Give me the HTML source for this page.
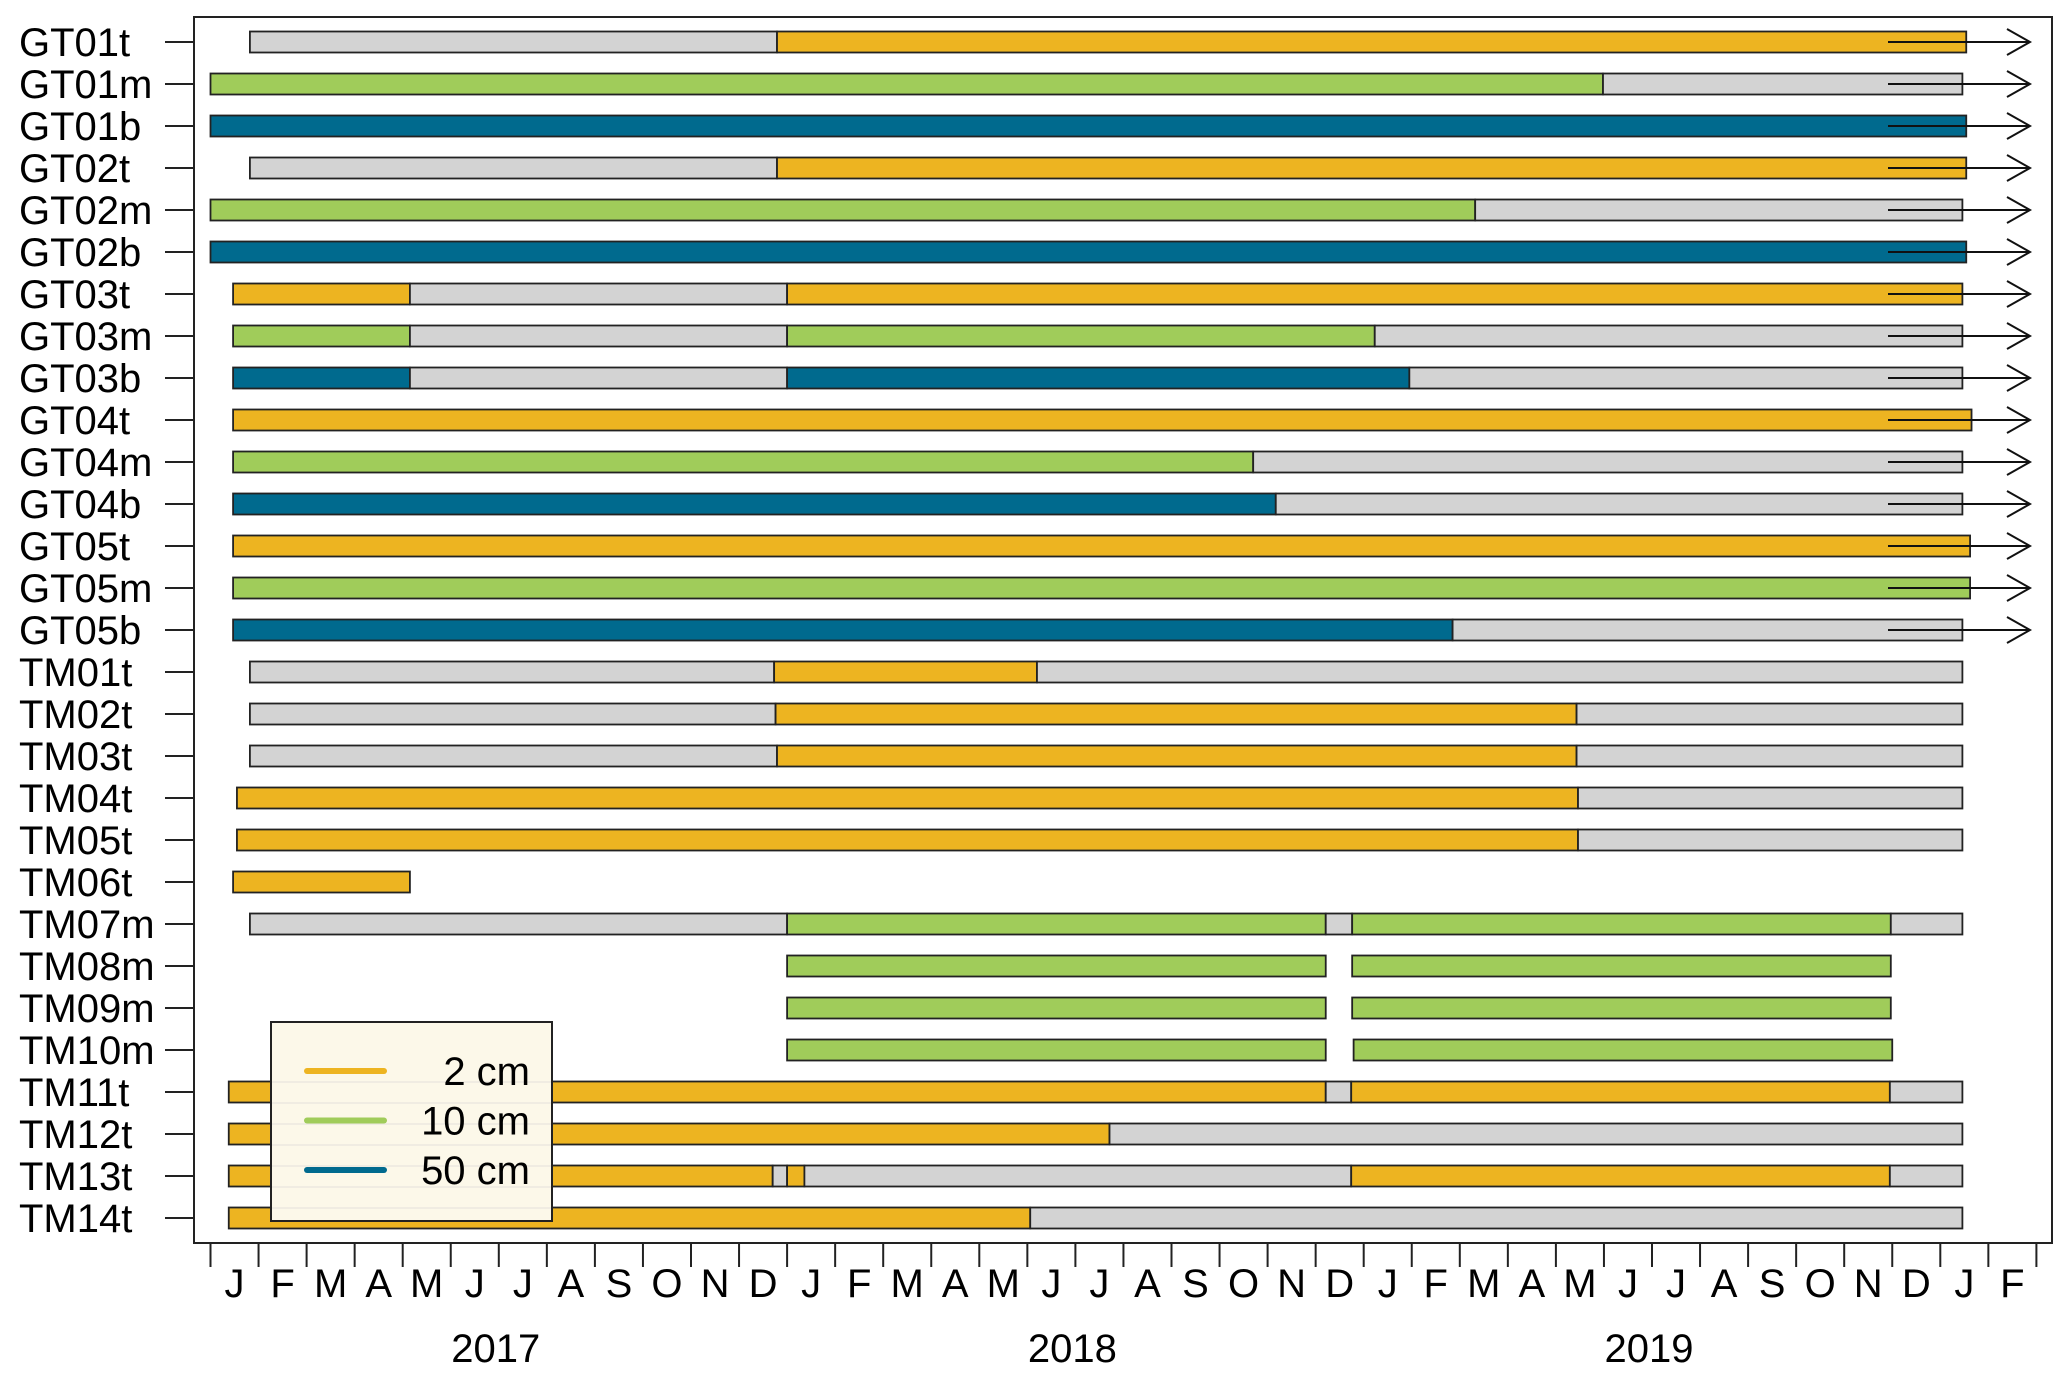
<!DOCTYPE html>
<html><head><meta charset="utf-8"><style>
html,body{margin:0;padding:0;background:#fff;}
svg{display:block;font-family:"Liberation Sans",Arial,sans-serif;}
</style></head><body>
<svg id="chart" width="2067" height="1381" viewBox="0 0 2067 1381"></svg>
<script>
// Data: rows, segments (start/end in months since Jan 2017), types (g=gray none, t=2cm, m=10cm, b=50cm)
const rowLabels = ["GT01t","GT01m","GT01b","GT02t","GT02m","GT02b","GT03t","GT03m","GT03b","GT04t","GT04m","GT04b","GT05t","GT05m","GT05b","TM01t","TM02t","TM03t","TM04t","TM05t","TM06t","TM07m","TM08m","TM09m","TM10m","TM11t","TM12t","TM13t","TM14t"];
const segStarts = [
 [0.82,11.79],[0,28.98],[0],[0.82,11.79],[0,26.32],[0],
 [0.47,4.15,12.0],[0.47,4.15,12.0,24.23],[0.47,4.15,12.0,24.95],
 [0.47],[0.47,21.7],[0.47,22.17],[0.47],[0.47],[0.47,25.85],
 [0.82,11.73,17.2],[0.82,11.76,28.43],[0.82,11.79,28.43],[0.55,28.46],[0.55,28.46],[0.47],
 [0.82,12.0,23.21,23.76,34.97],[12.0,23.76],[12.0,23.76],[12.0,23.79],
 [0.38,23.21,23.74,34.95],[0.38,18.71],[0.38,11.7,12.0,12.36,23.74,34.95],[0.38,17.06]
];
const segEnds = [
 [11.79,36.54],[28.98,36.46],[36.54],[11.79,36.54],[26.32,36.46],[36.54],
 [4.15,12.0,36.46],[4.15,12.0,24.23,36.46],[4.15,12.0,24.95,36.46],
 [36.65],[21.7,36.46],[22.17,36.46],[36.62],[36.62],[25.85,36.46],
 [11.73,17.2,36.46],[11.76,28.43,36.46],[11.79,28.43,36.46],[28.46,36.46],[28.46,36.46],[4.15],
 [12.0,23.21,23.76,34.97,36.46],[23.21,34.97],[23.21,34.97],[23.21,35.0],
 [23.21,23.74,34.95,36.46],[18.71,36.46],[11.7,12.0,12.36,23.74,34.95,36.46],[17.06,36.46]
];
const segTypes = [
 "gt","mg","b","gt","mg","b",
 "tgt","mgmg","bgbg",
 "t","mg","bg","t","m","bg",
 "gtg","gtg","gtg","tg","tg","t",
 "gmgmg","mm","mm","mm",
 "tgtg","tg","tgtgtg","tg"
];
const arrowRows = ["GT01t","GT01m","GT01b","GT02t","GT02m","GT02b","GT03t","GT03m","GT03b","GT04t","GT04m","GT04b","GT05t","GT05m","GT05b"];
const monthLabels = ["J","F","M","A","M","J","J","A","S","O","N","D","J","F","M","A","M","J","J","A","S","O","N","D","J","F","M","A","M","J","J","A","S","O","N","D","J","F"];
const yearLabels = ["2017","2018","2019"];
const legendLabels = ["2 cm","10 cm","50 cm"];

const colors = {g:"#d3d3d3", t:"#edb421", m:"#a0cc5a", b:"#006a8e"};
const NS = "http://www.w3.org/2000/svg";
const svg = document.getElementById("chart");
const X0 = 210.5, MW = 48.05;
function x(m){ return X0 + m*MW; }
function y(i){ return 42 + i*42.0; }
function mk(tag, attrs, parent){
  const e = document.createElementNS(NS, tag);
  for (const k in attrs) e.setAttribute(k, attrs[k]);
  (parent||svg).appendChild(e);
  return e;
}
const box = mk("rect",{x:194,y:17,width:1858,height:1226,fill:"none",stroke:"#222","stroke-width":2});



rowLabels.forEach((lab,i)=>{
  const cy = y(i);
  const t = mk("text",{x:19,y:cy+14,"font-size":40,fill:"#000"});
  t.textContent = lab;
  
  
  const tk = mk("line",{x1:165,x2:194,y1:cy,y2:cy,stroke:"#222","stroke-width":2});
  
  
  const g = mk("g",{});
  
  
  segStarts[i].forEach((s,j)=>{
    const e = segEnds[i][j];
    const r = mk("rect",{x:x(s),y:cy-10.5,width:x(e)-x(s),height:21,fill:colors[segTypes[i][j]],stroke:"#222","stroke-width":1.8},g);
    
    
  });
  if (arrowRows.includes(lab)){
    const a = mk("path",{d:`M1888 ${cy} L2030 ${cy} M2007 ${cy-13} L2030 ${cy} L2007 ${cy+13}`,fill:"none",stroke:"#111","stroke-width":2});
    
    
  }
});

for (let k=0;k<=monthLabels.length;k++){
  const tk = mk("line",{x1:x(k),x2:x(k),y1:1243,y2:1267,stroke:"#222","stroke-width":2});
  
  
}
monthLabels.forEach((m,k)=>{
  const t = mk("text",{x:x(k+0.5),y:1297,"font-size":40,"text-anchor":"middle",fill:"#000"});
  t.textContent = m;
  
  
});
yearLabels.forEach((yr,k)=>{
  const t = mk("text",{x:x(k*12+6)-3,y:1362,"font-size":40,"text-anchor":"middle",fill:"#000"});
  t.textContent = yr;
  
  
});

const lg = mk("g",{});


mk("rect",{x:271,y:1022,width:281,height:199,fill:"#fcf8e9",stroke:"#222","stroke-width":2},lg);
[1082,1103,1124,1145,1166,1187,1208].forEach(yy=>mk("line",{x1:272,x2:551,y1:yy,y2:yy,stroke:"#ebe8e0","stroke-width":1.5},lg));
const lcol = ["t","m","b"];
legendLabels.forEach((l,k)=>{
  const ly = 1071 + k*49.5;
  const ln = mk("line",{x1:307,x2:384,y1:ly,y2:ly,stroke:colors[lcol[k]],"stroke-width":6,"stroke-linecap":"round"},lg);
  
  
  const t = mk("text",{x:530,y:ly+14,"font-size":40,"text-anchor":"end",fill:"#000"},lg);
  t.textContent = l;
  
  
});
</script>
</body></html>
